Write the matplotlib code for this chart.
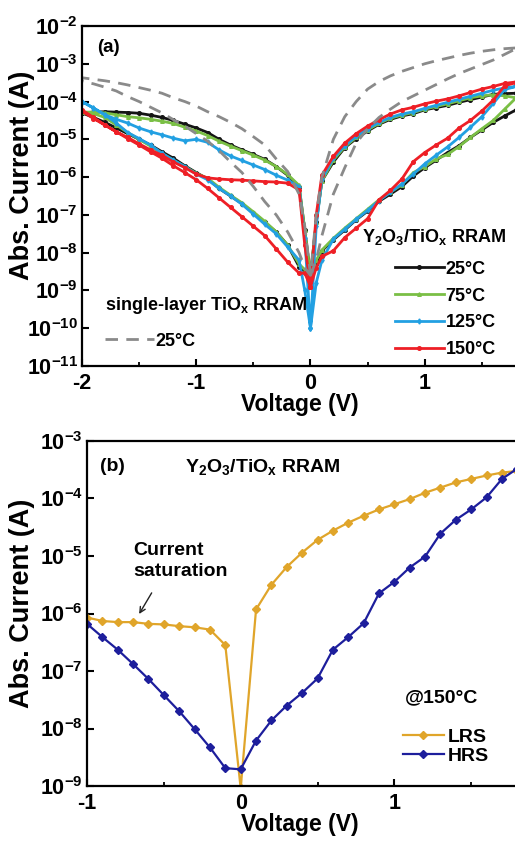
import numpy as np
import matplotlib
matplotlib.use("Agg")
import matplotlib.pyplot as plt
from matplotlib.ticker import NullLocator, MultipleLocator, FuncFormatter

plt.rcParams["font.family"] = ["Liberation Sans", "DejaVu Sans"]
plt.rcParams["font.weight"] = "bold"
plt.rcParams["axes.labelweight"] = "bold"
plt.rcParams["axes.unicode_minus"] = False
plt.rcParams["mathtext.fontset"] = "custom"
plt.rcParams["mathtext.rm"] = "Liberation Sans:bold"
plt.rcParams["mathtext.it"] = "Liberation Sans:bold"
plt.rcParams["mathtext.bf"] = "Liberation Sans:bold"
plt.rcParams["mathtext.sf"] = "Liberation Sans:bold"
plt.rcParams["mathtext.default"] = "bf"

# ---- panel (a): voltage sweep points and log10(|I|) per branch ----
V_POS = [0.0, 0.05, 0.1, 0.2, 0.3, 0.4, 0.5, 0.6, 0.7, 0.8, 0.9, 1.0,
         1.1, 1.2, 1.3, 1.4, 1.5, 1.6, 1.7, 1.8]
V_NEG = [0.0, -0.05, -0.1, -0.2, -0.3, -0.4, -0.5, -0.6, -0.7, -0.8, -0.9,
         -1.0, -1.1, -1.2, -1.3, -1.4, -1.5, -1.6, -1.7, -1.8, -1.9, -2.0]

t25_pos_lo = [-8.6, -8.3, -7.95, -7.66, -7.4, -7.13, -6.9, -6.64, -6.45, -6.25, -5.97,
              -5.75, -5.55, -5.35, -5.17, -4.95, -4.75, -4.55, -4.38, -4.22]
t25_pos_up = [-8.6, -7.2, -6.1, -5.6, -5.22, -4.98, -4.78, -4.6, -4.47, -4.38, -4.32,
              -4.22, -4.16, -4.1, -4.02, -3.95, -3.88, -3.81, -3.79, -3.78]
t25_neg_up = [-8.6, -7.4, -6.25, -5.95, -5.72, -5.53, -5.4, -5.28, -5.15, -5.0, -4.82,
              -4.7, -4.6, -4.5, -4.42, -4.36, -4.31, -4.29, -4.28, -4.27, -4.28, -4.3]
t25_neg_lo = [-8.6, -8.5, -8.37, -7.8, -7.45, -7.2, -6.95, -6.7, -6.5, -6.3, -6.05,
              -5.88, -5.7, -5.5, -5.33, -5.15, -5.0, -4.85, -4.7, -4.55, -4.42, -4.3]

t75_pos_lo = [-8.6, -8.2, -7.93, -7.62, -7.35, -7.1, -6.85, -6.6, -6.4, -6.2, -5.88,
              -5.72, -5.52, -5.4, -5.19, -4.95, -4.72, -4.5, -4.2, -3.9]
t75_pos_up = [-8.6, -7.2, -6.1, -5.55, -5.2, -4.95, -4.75, -4.58, -4.44, -4.36, -4.29,
              -4.2, -4.13, -4.06, -3.98, -3.9, -3.85, -3.82, -3.85, -3.9]
t75_neg_up = [-8.6, -7.4, -6.22, -5.93, -5.72, -5.55, -5.42, -5.3, -5.18, -5.05, -4.9,
              -4.78, -4.68, -4.58, -4.52, -4.47, -4.43, -4.4, -4.35, -4.3, -4.28, -4.28]
t75_neg_lo = [-8.6, -8.45, -8.3, -7.8, -7.45, -7.17, -6.92, -6.68, -6.48, -6.27, -6.03,
              -5.9, -5.72, -5.55, -5.37, -5.18, -5.0, -4.82, -4.62, -4.42, -4.32, -4.28]

t125_pos_lo = [-10.0, -8.8, -8.2, -7.64, -7.38, -7.12, -6.88, -6.62, -6.4, -6.18, -5.92,
               -5.65, -5.42, -5.2, -4.95, -4.68, -4.4, -4.05, -3.68, -3.6]
t125_pos_up = [-10.0, -7.3, -6.05, -5.5, -5.17, -4.92, -4.72, -4.55, -4.42, -4.33, -4.27,
               -4.18, -4.1, -4.02, -3.94, -3.86, -3.78, -3.7, -3.64, -3.6]
t125_neg_up = [-10.0, -7.6, -6.25, -6.08, -5.95, -5.8, -5.68, -5.56, -5.44, -5.28, -5.08,
               -5.0, -5.04, -4.97, -4.88, -4.8, -4.7, -4.57, -4.47, -4.35, -4.17, -4.0]
t125_neg_lo = [-10.0, -9.0, -8.2, -7.85, -7.5, -7.25, -6.98, -6.72, -6.5, -6.3, -6.07,
               -5.92, -5.72, -5.55, -5.37, -5.15, -4.98, -4.82, -4.57, -4.35, -4.17, -4.0]

t150_pos_lo = [-8.9, -8.4, -8.1, -7.95, -7.6, -7.35, -7.1, -6.6, -6.35, -6.05, -5.59,
               -5.35, -5.15, -4.97, -4.7, -4.5, -4.25, -3.96, -3.58, -3.5]
t150_pos_up = [-8.9, -7.0, -5.95, -5.45, -5.1, -4.85, -4.65, -4.48, -4.33, -4.22, -4.15,
               -4.06, -3.99, -3.93, -3.85, -3.76, -3.67, -3.6, -3.52, -3.48]
t150_neg_up = [-8.9, -7.8, -6.34, -6.16, -6.13, -6.12, -6.1, -6.08, -6.07, -6.05, -6.02,
               -5.92, -5.75, -5.6, -5.42, -5.28, -5.12, -4.95, -4.8, -4.62, -4.45, -4.25]
t150_neg_lo = [-8.9, -8.54, -8.54, -8.25, -7.9, -7.55, -7.3, -7.05, -6.8, -6.55, -6.3,
               -6.07, -5.88, -5.7, -5.5, -5.33, -5.15, -4.98, -4.8, -4.62, -4.42, -4.22]

single_pos_up = [-8.6, -7.0, -6.0, -5.0, -4.4, -4.0, -3.67, -3.47, -3.32, -3.2, -3.1,
                 -3.0, -2.92, -2.85, -2.78, -2.72, -2.67, -2.63, -2.6, -2.58]
single_pos_lo = [-8.6, -8.2, -7.55, -6.45, -5.75, -5.1, -4.72, -4.42, -4.2, -4.0, -3.85,
                 -3.7, -3.55, -3.4, -3.26, -3.14, -3.02, -2.9, -2.75, -2.6]
single_neg_up = [-8.6, -7.3, -6.45, -5.85, -5.52, -5.15, -4.93, -4.72, -4.55, -4.4, -4.27,
                 -4.12, -4.0, -3.9, -3.78, -3.7, -3.63, -3.56, -3.5, -3.45, -3.41, -3.37]
single_neg_lo = [-8.6, -8.4, -8.0, -7.45, -7.0, -6.65, -6.25, -5.88, -5.6, -5.3, -5.05,
                 -4.85, -4.65, -4.48, -4.3, -4.15, -4.0, -3.87, -3.72, -3.62, -3.53, -3.47]

temp_labels = ["25°C", "75°C", "125°C", "150°C"]
temp_colors = ["#141414", "#7ABF45", "#22A0E2", "#EE1F26"]
temp_markers = ["o", "^", "d", "o"]

# ---- panel (b): @150C, LRS / HRS ----
V_B = [-1.0, -0.9, -0.8, -0.7, -0.6, -0.5, -0.4, -0.3, -0.2, -0.1, 0.0,
       0.1, 0.2, 0.3, 0.4, 0.5, 0.6, 0.7, 0.8, 0.9, 1.0, 1.1, 1.2, 1.3,
       1.4, 1.5, 1.6, 1.7, 1.8]
lrs_log = [-6.07, -6.13, -6.15, -6.15, -6.18, -6.19, -6.22, -6.24, -6.28, -6.55, -9.04,
           -5.93, -5.50, -5.19, -4.94, -4.72, -4.56, -4.42, -4.30, -4.19, -4.10,
           -4.01, -3.90, -3.81, -3.72, -3.66, -3.60, -3.55, -3.52]
hrs_log = [-6.18, -6.41, -6.63, -6.88, -7.14, -7.42, -7.70, -8.01, -8.33, -8.69, -8.71,
           -8.21, -7.86, -7.60, -7.38, -7.13, -6.63, -6.41, -6.17, -5.65, -5.45,
           -5.20, -5.01, -4.61, -4.37, -4.19, -3.98, -3.66, -3.48]


def loop(pos_lo, pos_up, neg_up, neg_lo):
    # 0 -> +Vmax on the low branch, back on the high branch, then the negative side
    v = list(V_POS) + V_POS[::-1] + list(V_NEG) + V_NEG[::-1]
    logi = list(pos_lo) + pos_up[::-1] + list(neg_up) + neg_lo[::-1]
    return np.array(v), 10.0 ** np.array(logi)


def decade(y, pos):
    return r"$\mathbf{10^{%d}}$" % int(round(np.log10(y)))


def style_axes(ax, xlim, decades):
    ax.set_yscale("log")
    ax.set_xlim(*xlim)
    ax.set_ylim(10.0 ** decades[0], 10.0 ** decades[1])
    # only the decades inside the view, so no hidden labels hang past the figure
    ax.set_yticks([10.0 ** k for k in range(decades[0], decades[1] + 1)])
    ax.yaxis.set_major_formatter(FuncFormatter(decade))
    ax.yaxis.set_minor_locator(NullLocator())
    ax.xaxis.set_major_locator(MultipleLocator(1))
    ax.xaxis.set_minor_locator(MultipleLocator(0.5))
    ax.tick_params(which="major", direction="in", length=5, width=1.5,
                   labelsize=15.5, right=False, top=False)
    ax.tick_params(which="minor", direction="in", length=3, width=1.3,
                   right=False, top=False)
    ax.tick_params(axis="x", pad=5)
    ax.tick_params(axis="y", pad=3)
    for side in ["left", "bottom", "top"]:
        ax.spines[side].set_linewidth(1.6)
    ax.spines["right"].set_visible(False)


fig = plt.figure(figsize=(5.15, 8.46), dpi=100)
W, H = 515.0, 846.0
ax_a = fig.add_axes([82 / W, 1 - 366 / H, 1 - 82 / W, 340 / H])
ax_b = fig.add_axes([87 / W, 1 - 786 / H, 1 - 87 / W, 345 / H])

# ---------------- (a) ----------------
loops = [
    (t25_pos_lo, t25_pos_up, t25_neg_up, t25_neg_lo),
    (t75_pos_lo, t75_pos_up, t75_neg_up, t75_neg_lo),
    (t125_pos_lo, t125_pos_up, t125_neg_up, t125_neg_lo),
    (t150_pos_lo, t150_pos_up, t150_neg_up, t150_neg_lo),
]
handles = []
for branches, lab, col, mk in zip(loops, temp_labels, temp_colors, temp_markers):
    v, cur = loop(*branches)
    ln, = ax_a.plot(v, cur, color=col, lw=2.0, marker=mk, ms=2.6, mec=col, mfc=col,
                    label=lab)
    handles.append(ln)

v, cur = loop(single_pos_lo, single_pos_up, single_neg_up, single_neg_lo)
gray, = ax_a.plot(v, cur, color="#8a8a8a", lw=2.0, linestyle=(0, (4.5, 3)))

style_axes(ax_a, (-2, 1.79), (-11, -2))
ax_a.set_xlabel("Voltage (V)", fontsize=16.5)
ax_a.set_ylabel("Abs. Current (A)", fontsize=19.5)
ax_a.xaxis.set_label_coords(0.503, -0.112)
ax_a.xaxis.label.set_va("center")
ax_a.yaxis.set_label_coords(-0.139, 0.562)
ax_a.yaxis.label.set_va("center")

ax_a.text(0.035, 0.938, "(a)", transform=ax_a.transAxes, fontsize=13.5,
          ha="left", va="center")
ax_a.text(0.812, 0.379, "Y$_2$O$_3$/TiO$_x$ RRAM", transform=ax_a.transAxes,
          fontsize=13, ha="center", va="center")
leg1 = ax_a.legend(handles=handles, labels=temp_labels, loc="upper left",
                   bbox_to_anchor=(0.723, 0.31), frameon=False, fontsize=13,
                   handlelength=2.7, handletextpad=0.1, labelspacing=0.55,
                   borderpad=0, borderaxespad=0)
ax_a.add_artist(leg1)
ax_a.text(0.053, 0.179, "single-layer TiO$_x$ RRAM", transform=ax_a.transAxes,
          fontsize=13, ha="left", va="center")
ax_a.legend(handles=[gray], labels=["25°C"], loc="upper left",
            bbox_to_anchor=(0.053, 0.098), frameon=False, fontsize=13,
            handlelength=2.7, handletextpad=0.1, borderpad=0, borderaxespad=0)

# ---------------- (b) ----------------
lrs_color = "#E0A52A"
hrs_color = "#1D1E9C"
l_lrs, = ax_b.plot(V_B, 10.0 ** np.array(lrs_log), color=lrs_color, lw=1.6,
                   marker="D", ms=4.2, label="LRS")
l_hrs, = ax_b.plot(V_B, 10.0 ** np.array(hrs_log), color=hrs_color, lw=1.6,
                   marker="D", ms=4.2, label="HRS")

style_axes(ax_b, (-1, 1.785), (-9, -3))
ax_b.set_xlabel("Voltage (V)", fontsize=16.5)
ax_b.set_ylabel("Abs. Current (A)", fontsize=19.5)
ax_b.xaxis.set_label_coords(0.498, -0.112)
ax_b.xaxis.label.set_va("center")
ax_b.yaxis.set_label_coords(-0.152, 0.53)
ax_b.yaxis.label.set_va("center")

ax_b.text(0.030, 0.925, "(b)", transform=ax_b.transAxes, fontsize=14,
          ha="left", va="center")
ax_b.text(0.229, 0.925, "Y$_2$O$_3$/TiO$_x$ RRAM", transform=ax_b.transAxes,
          fontsize=14, ha="left", va="center")
ax_b.text(0.107, 0.652, "Current\nsaturation", transform=ax_b.transAxes,
          fontsize=14, ha="left", va="center", linespacing=1.3)
ax_b.annotate("", xy=(-0.67, 10 ** -6.05), xytext=(-0.57, 10 ** -5.6),
              arrowprops=dict(arrowstyle="->", lw=1.0, color="#222222"))
ax_b.text(0.743, 0.255, "@150°C", transform=ax_b.transAxes, fontsize=14,
          ha="left", va="center")
ax_b.legend(handles=[l_lrs, l_hrs], labels=["LRS", "HRS"], loc="upper left",
            bbox_to_anchor=(0.738, 0.168), frameon=False, fontsize=14,
            handlelength=2.1, handletextpad=0.2, labelspacing=0.1,
            borderpad=0, borderaxespad=0)

fig.savefig("out.png", dpi=100)
